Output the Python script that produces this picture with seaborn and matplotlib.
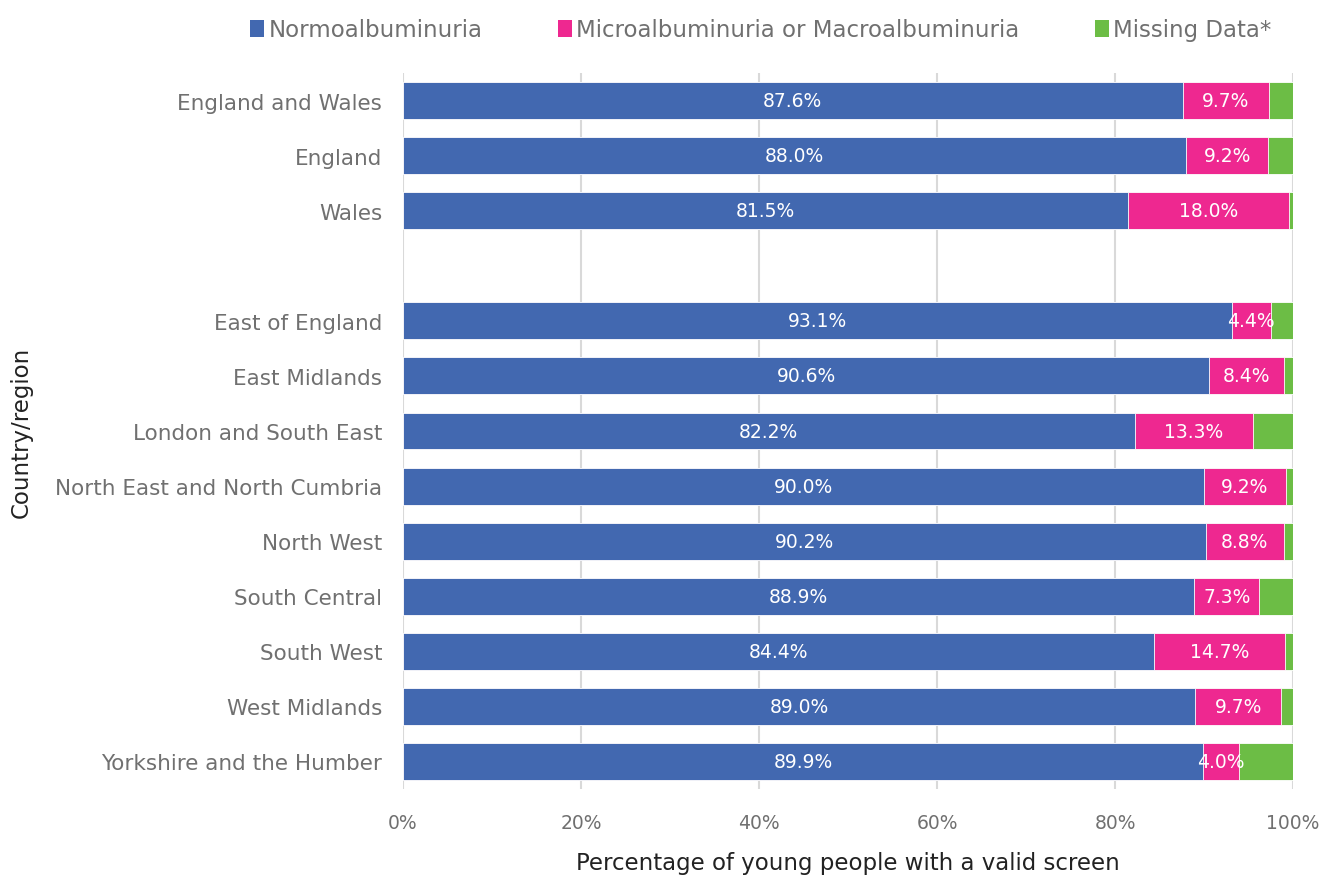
import numpy as np
import pandas as pd
import matplotlib
matplotlib.use("Agg")
import matplotlib.pyplot as plt
import seaborn as sns
from matplotlib.patches import Patch

regions = [
    "England and Wales", "England", "Wales", "",
    "East of England", "East Midlands", "London and South East",
    "North East and North Cumbria", "North West", "South Central",
    "South West", "West Midlands", "Yorkshire and the Humber",
]
normo = [87.6, 88.0, 81.5, np.nan, 93.1, 90.6, 82.2, 90.0, 90.2, 88.9, 84.4, 89.0, 89.9]
micro = [9.7, 9.2, 18.0, np.nan, 4.4, 8.4, 13.3, 9.2, 8.8, 7.3, 14.7, 9.7, 4.0]
missing = [2.7, 2.8, 0.5, np.nan, 2.5, 1.0, 4.5, 0.8, 1.0, 3.8, 0.9, 1.3, 6.1]

series = ["Normoalbuminuria", "Microalbuminuria or Macroalbuminuria", "Missing Data*"]
colors = ["#4268B0", "#EE2890", "#6CBD45"]
grey = "#707070"

df = pd.DataFrame({"region": regions, "normo": normo, "micro": micro, "missing": missing})
df["c_normo"] = df["normo"]
df["c_micro"] = df["normo"] + df["micro"]
df["c_missing"] = df["c_micro"] + df["missing"]
plot_df = df[df["region"] != ""]

sns.set_theme(style="white")
plt.rcParams["font.family"] = ["DejaVu Sans"]

fig = plt.figure(figsize=(13.21, 8.78), dpi=100)
ax = fig.add_axes([0.3051, 0.1002, 0.6737, 0.8155])

# stacked by overdrawing cumulative totals
for col, color in zip(["c_missing", "c_micro", "c_normo"], colors[::-1]):
    sns.barplot(data=plot_df, x=col, y="region", order=regions, orient="h",
                color=color, saturation=1, width=0.67, ax=ax,
                edgecolor="white", linewidth=0.6, zorder=3)

# value labels
for i, row in df.iterrows():
    if row["region"] == "":
        continue
    ax.text(row["normo"] / 2, i, f"{row['normo']:.1f}%", ha="center", va="center",
            color="white", fontsize=13.5, zorder=5)
    ax.text(row["normo"] + row["micro"] / 2, i, f"{row['micro']:.1f}%", ha="center",
            va="center", color="white", fontsize=13.5, zorder=5)

ax.set_xlim(0, 100)
ax.set_ylim(12.5, -0.5)
ax.set_xticks(np.arange(0, 101, 20))
ax.set_xticklabels([f"{t}%" for t in range(0, 101, 20)])
ax.xaxis.grid(True, color="#d9d9d9", linewidth=1.5, zorder=0)
ax.set_axisbelow(True)
sns.despine(ax=ax, left=True, bottom=True)
ax.tick_params(axis="x", length=0, pad=17, labelsize=13.5, labelcolor=grey)
ax.tick_params(axis="y", length=0, pad=15, labelsize=15.5, labelcolor=grey)

ax.set_xlabel("Percentage of young people with a valid screen", fontsize=16.5,
              color="#222222", labelpad=14)
ax.set_ylabel("Country/region", fontsize=16.5, color="#222222", labelpad=16)

handles = [Patch(facecolor=c, edgecolor="none") for c in colors]
fig.legend(handles, series, loc="center", bbox_to_anchor=(0.576, 0.965), ncol=3,
           frameon=False, fontsize=16.5, labelcolor=grey, handlelength=0.6,
           handleheight=0.8, handletextpad=0.2, columnspacing=3.3)

fig.savefig("out.png", dpi=100)
plt.close(fig)
